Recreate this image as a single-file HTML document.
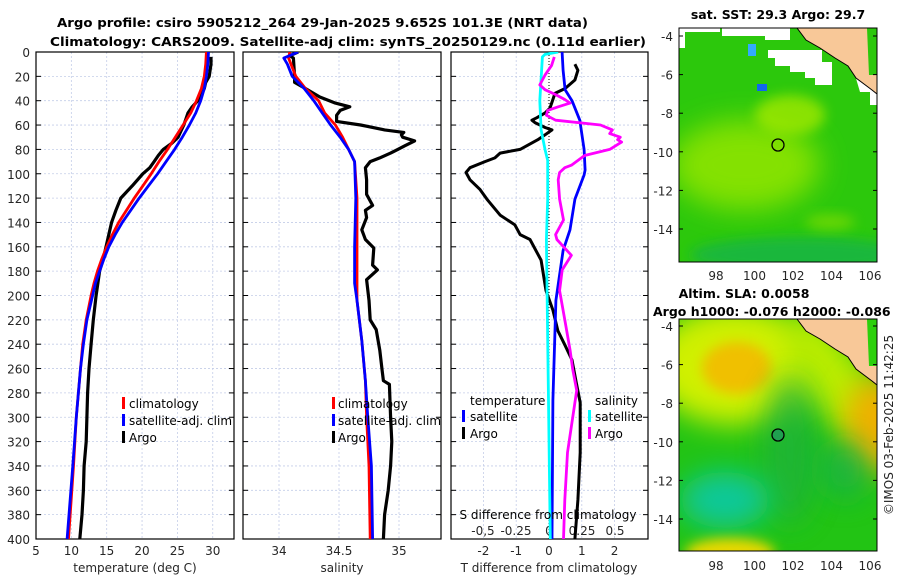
<!DOCTYPE html>
<html><head><meta charset="utf-8"><style>
html,body{margin:0;padding:0;background:#fff;}
svg{display:block;font-family:"DejaVu Sans","Liberation Sans",sans-serif;}
.tk{font-size:12px;fill:#262626;}
.ttl{font-size:12.5px;font-weight:bold;fill:#000;}
.lg{font-size:12px;fill:#000;}
</style></head><body>
<svg id="fig" width="900" height="580" viewBox="0 0 900 580">
<defs>
<clipPath id="c1"><rect x="36" y="52" width="198" height="487"/></clipPath>
<clipPath id="c2"><rect x="243" y="52" width="198" height="487"/></clipPath>
<clipPath id="c3"><rect x="451" y="52" width="197" height="487"/></clipPath>
<clipPath id="m1"><rect x="679" y="28" width="198" height="234"/></clipPath>
<clipPath id="m2"><rect x="679" y="319" width="198" height="232"/></clipPath>
<filter id="bl" x="-50%" y="-50%" width="200%" height="200%"><feGaussianBlur stdDeviation="14"/></filter>
<filter id="bl2" x="-50%" y="-50%" width="200%" height="200%"><feGaussianBlur stdDeviation="6"/></filter>
</defs>
<text class="ttl" x="57" y="27" textLength="531" lengthAdjust="spacingAndGlyphs">Argo profile: csiro 5905212_264 29-Jan-2025 9.652S 101.3E (NRT data)</text>
<text class="ttl" x="50" y="46" textLength="596" lengthAdjust="spacingAndGlyphs">Climatology: CARS2009. Satellite-adj clim: synTS_20250129.nc (0.11d earlier)</text>
<g id="axes"></g>
<g id="series"></g>

<g>
<rect x="122" y="397" width="3" height="12" fill="#f00"/><text class="lg" x="129" y="408">climatology</text>
<rect x="122" y="414" width="3" height="12" fill="#00f"/><text class="lg" x="129" y="425">satellite-adj. clim</text>
<rect x="122" y="431" width="3" height="12" fill="#000"/><text class="lg" x="129" y="442">Argo</text>
</g>
<g>
<rect x="332" y="397" width="3" height="12" fill="#f00"/><text class="lg" x="338" y="408">climatology</text>
<rect x="332" y="414" width="3" height="12" fill="#00f"/><text class="lg" x="338" y="425">satellite-adj. clim</text>
<rect x="332" y="431" width="3" height="12" fill="#000"/><text class="lg" x="338" y="442">Argo</text>
</g>
<g>
<text class="lg" x="470" y="405">temperature</text>
<rect x="462" y="410" width="3" height="12" fill="#00f"/><text class="lg" x="470" y="421">satellite</text>
<rect x="462" y="427" width="3" height="12" fill="#000"/><text class="lg" x="470" y="438">Argo</text>
<text class="lg" x="595" y="405">salinity</text>
<rect x="588" y="410" width="3" height="12" fill="#0ff"/><text class="lg" x="595" y="421">satellite</text>
<rect x="588" y="427" width="3" height="12" fill="#f0f"/><text class="lg" x="595" y="438">Argo</text>
</g>
<text class="lg" x="548" y="519" text-anchor="middle">S difference from climatology</text>

<text class="ttl" x="778" y="19" text-anchor="middle">sat. SST: 29.3 Argo: 29.7</text>
<g clip-path="url(#m1)">
<rect x="679" y="28" width="198" height="234" fill="#2cc80c"/>
<ellipse cx="745" cy="165" rx="75" ry="45" fill="#8ee400" filter="url(#bl)" opacity="0.9"/>
<ellipse cx="790" cy="115" rx="35" ry="20" fill="#a0e800" filter="url(#bl2)" opacity="0.8"/>
<ellipse cx="800" cy="255" rx="110" ry="18" fill="#14b448" filter="url(#bl2)" opacity="0.8"/>
<ellipse cx="830" cy="222" rx="25" ry="8" fill="#90e000" filter="url(#bl2)" opacity="0.6"/>
<polygon points="679,28 720,28 720,32 685,32 685,48 679,48" fill="#fff"/>
<polygon points="768,50 822,50 822,62 832,62 832,85 815,85 815,78 805,78 805,72 790,72 790,66 775,66 775,58 768,58" fill="#fff"/>
<polygon points="722,28 790,28 790,40 765,40 765,36 722,36" fill="#fff"/>
<polygon points="855,75 877,75 877,105 870,105 870,92 860,92" fill="#fff"/>
<rect x="748" y="44" width="8" height="12" fill="#33aaff"/>
<rect x="757" y="84" width="10" height="7" fill="#1166ee"/>
<polygon points="797,28 806,40 820,48 835,58 848,66 856,78 864,84 872,90 877,94 877,28" fill="#f8c898" stroke="#000" stroke-width="1"/>
<polygon points="867,28 877,28 877,75 869,75" fill="#2cc80c"/>
<circle cx="778" cy="145" r="6" fill="none" stroke="#000" stroke-width="1.3"/>
</g>
<rect x="679" y="28" width="198" height="234" fill="none" stroke="#000" stroke-width="1"/>
<g id="map1ticks"></g>

<text class="ttl" x="744" y="298" text-anchor="middle">Altim. SLA: 0.0058</text>
<text class="ttl" x="653" y="316">Argo h1000: -0.076 h2000: -0.086</text>
<g clip-path="url(#m2)">
<rect x="679" y="319" width="198" height="232" fill="#22c414"/>
<ellipse cx="735" cy="365" rx="85" ry="60" fill="#d0f000" filter="url(#bl)"/>
<ellipse cx="737" cy="368" rx="35" ry="26" fill="#f0c000" filter="url(#bl2)"/>
<ellipse cx="835" cy="380" rx="32" ry="75" fill="#b8ec00" filter="url(#bl)" transform="rotate(-35 835 380)"/>
<ellipse cx="877" cy="425" rx="32" ry="48" fill="#f0b000" filter="url(#bl)"/>
<ellipse cx="790" cy="450" rx="28" ry="75" fill="#1cb040" filter="url(#bl)" opacity="0.7"/>
<ellipse cx="725" cy="500" rx="45" ry="28" fill="#10c89a" filter="url(#bl)"/>
<ellipse cx="845" cy="470" rx="25" ry="30" fill="#16b050" filter="url(#bl)" opacity="0.7"/>
<ellipse cx="730" cy="553" rx="45" ry="15" fill="#e8d800" filter="url(#bl2)"/>
<polygon points="797,319 806,331 820,339 835,349 848,357 856,369 864,375 872,381 877,385 877,319" fill="#f8c898" stroke="#000" stroke-width="1"/>
<polygon points="867,319 877,319 877,366 869,366" fill="#2cd00c"/>
<circle cx="778" cy="435" r="6" fill="#20a050" stroke="#000" stroke-width="1.3"/>
</g>
<rect x="679" y="319" width="198" height="232" fill="none" stroke="#000" stroke-width="1"/>
<g id="map2ticks"></g>
<text x="893" y="425" text-anchor="middle" transform="rotate(-90 893 425)" style="font-size:12px" fill="#262626">©IMOS 03-Feb-2025 11:42:25</text>
</svg>
<script>
const depthTicks = [0,20,40,60,80,100,120,140,160,180,200,220,240,260,280,300,320,340,360,380,400];
const tempTicks = [5,10,15,20,25,30];
const salTicks = [34,34.5,35];
const salTickLabels = ["34","34.5","35"];
const tdiffTicks = [-2,-1,0,1,2];
const sdiffTicks = [-0.5,-0.25,0,0.25,0.5];
const sdiffTickLabels = ["-0,5","-0.25","0","0.25","0.5"];

const climTempDepth = [0,10,20,30,40,50,60,70,80,90,100,110,120,130,140,150,160,170,180,190,200,220,240,260,280,300,340,400];
const climTemp = [29.1,29.0,28.8,28.4,27.7,26.9,25.8,24.7,23.6,22.4,21.3,20.1,18.9,17.8,16.7,15.8,15.0,14.3,13.7,13.2,12.8,12.1,11.6,11.3,11.0,10.7,10.3,9.6];
const satTemp = [29.4,29.3,29.1,28.8,28.3,27.6,26.7,25.7,24.6,23.4,22.2,20.9,19.6,18.4,17.2,16.2,15.3,14.6,14.0,13.4,13.0,12.2,11.7,11.3,11.0,10.7,10.2,9.4];
const argoTempDepth = [4,10,20,25,30,40,45,50,55,60,65,70,75,80,85,90,95,100,110,120,130,140,150,160,170,180,200,220,240,260,280,300,320,340,360,380,400];
const argoTemp = [29.75,29.75,29.5,29.0,28.8,27.9,27.1,26.5,26.2,25.9,25.5,25.1,24.2,23.0,22.3,21.7,21.1,20.1,18.6,17.0,16.3,15.7,15.3,14.9,14.5,14.0,13.5,13.1,12.8,12.5,12.3,12.2,12.1,11.8,11.7,11.5,11.2];

const climSalDepth = [0,5,10,20,30,40,50,60,70,80,90,120,160,190,204,237,270,300,340,400];
const climSal = [34.09,34.08,34.10,34.14,34.22,34.33,34.38,34.47,34.53,34.58,34.63,34.65,34.65,34.65,34.65,34.69,34.72,34.73,34.75,34.76];
const satSal = [34.16,34.04,34.07,34.11,34.21,34.29,34.36,34.43,34.51,34.58,34.63,34.64,34.63,34.63,34.65,34.69,34.72,34.74,34.77,34.78];
const argoSalDepth = [0,3,5,20,25,30,37,42,45,48,52,57,60,64,66,68,70,73,77,80,83,87,90,95,105,117,126,130,136,146,154,161,175,179,187,204,220,228,245,262,270,273,300,320,340,360,380,400];
const argoSal = [34.16,34.09,34.12,34.13,34.13,34.22,34.34,34.47,34.59,34.51,34.48,34.48,34.68,34.88,35.04,35.02,35.03,35.13,35.05,34.99,34.93,34.84,34.76,34.72,34.73,34.73,34.78,34.72,34.73,34.69,34.72,34.79,34.78,34.82,34.73,34.75,34.76,34.81,34.84,34.86,34.87,34.92,34.93,34.94,34.93,34.91,34.88,34.87];

const satTdiffDepth = [0,15,31,40,56,80,97,101,121,146,163,204,286,400];
const satTdiff = [0.40,0.43,0.49,0.70,0.94,1.07,1.10,1.07,0.79,0.64,0.43,0.21,0.12,0.09];
const argoTdiffDepth = [10,15,23,30,34,39,46,50,54,56,58,62,64,68,72,80,83,87,90,95,99,105,113,121,134,142,150,154,171,196,212,229,241,253,270,288,329,368,400];
const argoTdiff = [0.79,0.88,0.79,0.49,0.18,0.12,0.03,-0.12,-0.37,-0.52,-0.43,-0.12,0.09,-0.12,-0.34,-0.88,-1.49,-1.65,-1.95,-2.41,-2.53,-2.41,-2.10,-1.89,-1.49,-1.04,-0.88,-0.58,-0.24,-0.09,0.12,0.27,0.49,0.70,0.82,0.95,0.95,0.88,0.79];
const satSdiffDepth = [0,2,4,40,64,80,89,121,154,400];
const satSdiff = [0.07,-0.03,-0.05,-0.07,-0.06,-0.03,-0.01,-0.01,-0.02,0.01];
const argoSdiffDepth = [4,11,19,27,31,35,39,42,45,48,52,56,60,64,67,70,72,74,80,85,89,93,95,99,105,121,138,150,154,167,179,196,220,245,261,278,329,368,400];
const argoSdiff = [0.04,0.02,-0.03,-0.07,-0.03,0.05,0.12,0.16,0.07,-0.01,-0.02,0.05,0.39,0.48,0.46,0.54,0.52,0.55,0.46,0.27,0.22,0.17,0.12,0.08,0.07,0.08,0.11,0.05,0.06,0.17,0.10,0.08,0.12,0.16,0.18,0.21,0.14,0.12,0.11];

const latTicks = [-4,-6,-8,-10,-12,-14];
const lonTicks = [98,100,102,104,106];

const NS = "http://www.w3.org/2000/svg";
const Y0 = 52, Y1 = 539;
const yD = d => Y0 + d * (Y1 - Y0) / 400;
const xT = t => 36 + (t - 5) * 7.07;
const xS = s => 279 + (s - 34) * 120;
const xTd = t => 549 + t * 32.8;
const xSd = s => 549 + s * 132;
const P = [{x0:36,x1:234},{x0:243,x1:441},{x0:451,x1:648}];

function mk(tag, attrs, parent) {
  const e = document.createElementNS(NS, tag);
  for (const k in attrs) e.setAttribute(k, attrs[k]);
  parent.appendChild(e);
  return e;
}
const axes = document.getElementById('axes');
const series = document.getElementById('series');

P.forEach((p, i) => {
  depthTicks.forEach(d => {
    const g = mk('line', {x1:p.x0, x2:p.x1, y1:yD(d), y2:yD(d), stroke:'#c4cde8', 'stroke-width':0.8, 'stroke-dasharray':'2,2'}, axes);
    
    
    mk('line', {x1:p.x0, x2:p.x0+5, y1:yD(d), y2:yD(d), stroke:'#000', 'stroke-width':1}, axes);
    mk('line', {x1:p.x1-5, x2:p.x1, y1:yD(d), y2:yD(d), stroke:'#000', 'stroke-width':1}, axes);
  });
});
tempTicks.forEach(t => {
  mk('line', {x1:xT(t), x2:xT(t), y1:Y0, y2:Y1, stroke:'#c4cde8', 'stroke-width':0.8, 'stroke-dasharray':'2,2'}, axes);
  const l = mk('text', {x:xT(t), y:555, class:'tk', 'text-anchor':'middle'}, axes);
  l.textContent = t;
  
  
});
salTicks.forEach((s, i) => {
  mk('line', {x1:xS(s), x2:xS(s), y1:Y0, y2:Y1, stroke:'#c4cde8', 'stroke-width':0.8, 'stroke-dasharray':'2,2'}, axes);
  const l = mk('text', {x:xS(s), y:555, class:'tk', 'text-anchor':'middle'}, axes);
  l.textContent = salTickLabels[i];
  
  
});
tdiffTicks.forEach(t => {
  if (t !== 0) mk('line', {x1:xTd(t), x2:xTd(t), y1:Y0, y2:Y1, stroke:'#c4cde8', 'stroke-width':0.8, 'stroke-dasharray':'2,2'}, axes);
  const l = mk('text', {x:xTd(t), y:555, class:'tk', 'text-anchor':'middle'}, axes);
  l.textContent = t;
  
  
});
mk('line', {x1:xTd(0), x2:xTd(0), y1:Y0, y2:Y1, stroke:'#000', 'stroke-width':1, 'stroke-dasharray':'1,2'}, axes);
sdiffTicks.forEach((s, i) => {
  const l = mk('text', {x:xSd(s), y:535, class:'tk', 'text-anchor':'middle'}, axes);
  l.textContent = sdiffTickLabels[i];
  
  
});
depthTicks.forEach(d => {
  const l = mk('text', {x:30, y:yD(d)+5, class:'tk', 'text-anchor':'end'}, axes);
  l.textContent = d;
  
  
});
[['temperature (deg C)',135,'temperature-axis-title'],['salinity',342,'salinity-axis-title'],['T difference from climatology',549,'t-diff-axis-title']].forEach(a => {
  const l = mk('text', {x:a[1], y:572, class:'tk', 'text-anchor':'middle'}, axes);
  l.textContent = a[0];
  
  
});

function line(vals, depths, xf, color, w, clip, name) {
  const pts = vals.map((v, i) => xf(v).toFixed(1) + ',' + yD(depths[i]).toFixed(1)).join(' ');
  const e = mk('polyline', {points:pts, fill:'none', stroke:color, 'stroke-width':w, 'stroke-linejoin':'round', 'clip-path':'url(#'+clip+')'}, series);
  
  
}
line(argoTemp, argoTempDepth, xT, '#000', 3.2, 'c1', 'argo-temperature-line');
line(climTemp, climTempDepth, xT, '#f00', 2.8, 'c1', 'climatology-temperature-line');
line(satTemp, climTempDepth, xT, '#00f', 2.8, 'c1', 'satellite-temperature-line');
line(argoSal, argoSalDepth, xS, '#000', 3.2, 'c2', 'argo-salinity-line');
line(climSal, climSalDepth, xS, '#f00', 2.8, 'c2', 'climatology-salinity-line');
line(satSal, climSalDepth, xS, '#00f', 2.8, 'c2', 'satellite-salinity-line');
line(argoTdiff, argoTdiffDepth, xTd, '#000', 3, 'c3', 'argo-t-diff-line');
line(satTdiff, satTdiffDepth, xTd, '#00f', 2.8, 'c3', 'satellite-t-diff-line');
line(satSdiff, satSdiffDepth, xSd, '#0ff', 2.8, 'c3', 'satellite-s-diff-line');
line(argoSdiff, argoSdiffDepth, xSd, '#f0f', 2.8, 'c3', 'argo-s-diff-line');

P.forEach(p => {
  const r = mk('rect', {x:p.x0, y:Y0, width:p.x1-p.x0, height:Y1-Y0, fill:'none', stroke:'#000', 'stroke-width':1.2}, axes);
  
  
});

function mapTicks(gid, latY, xlabY) {
  const g = document.getElementById(gid);
  latTicks.forEach(la => {
    const y = latY + (-4 - la) * 19.3;
    mk('line', {x1:679, x2:683, y1:y, y2:y, stroke:'#000'}, g);
    mk('line', {x1:873, x2:877, y1:y, y2:y, stroke:'#000'}, g);
    const l = mk('text', {x:673, y:y+5, class:'tk', 'text-anchor':'end'}, g);
    l.textContent = la;
    
    
  });
  lonTicks.forEach(lo => {
    const x = 716 + (lo - 98) * 19.25;
    const l = mk('text', {x:x, y:xlabY, class:'tk', 'text-anchor':'middle'}, g);
    l.textContent = lo;
    
    
  });
}
mapTicks('map1ticks', 36, 280);
mapTicks('map2ticks', 326, 570);
</script>
</body></html>
